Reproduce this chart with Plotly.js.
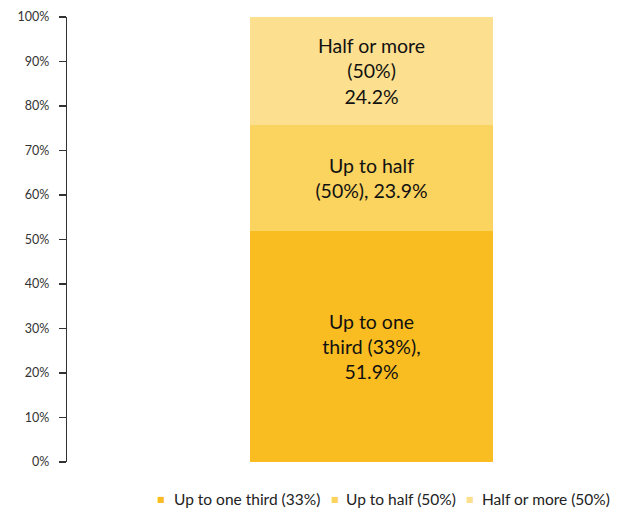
<!DOCTYPE html>
<html>
<head>
<meta charset="utf-8">
<script src="https://cdn.plot.ly/plotly-3.0.1.min.js"></script>
<style>html,body{margin:0;padding:0;background:#fff;}#chart{width:619px;height:512px;}</style>
</head>
<body>
<div id="chart"></div>
<script>
const seriesNames = ["Up to one third (33%)", "Up to half (50%)", "Half or more (50%)"];
const seriesValues = [51.9, 23.9, 24.2];
const barLabels = ["Up to one<br>third (33%),<br>51.9%", "Up to half<br>(50%), 23.9%", "Half or more<br>(50%)<br>24.2%"];
const seriesColors = ["#F9BD22", "#FBD35F", "#FCE08F"];
const yTickVals = [0,10,20,30,40,50,60,70,80,90,100];
const yTickText = ["0%","10%","20%","30%","40%","50%","60%","70%","80%","90%","100%"];

const FONT = "Lato, 'Open Sans', sans-serif";

const traces = seriesNames.map((name, i) => ({
  type: "bar",
  name: name,
  x: [0.5713],
  y: [seriesValues[i]],
  width: [0.456],
  marker: {color: seriesColors[i], line: {width: 0}},
  text: [barLabels[i]],
  textposition: "inside",
  insidetextanchor: "middle",
  constraintext: "none",
  textfont: {family: FONT, size: 19.5, color: "#111"},
  hoverinfo: "skip",
  showlegend: false
}));

// legend built as annotations (small square + text)
const legendSquareX = [161, 335, 470];
const legendTextX = [172, 344, 480];
const legendY = (512 - 499 - 50) / 445;
const annotations = [];
seriesNames.forEach((name, i) => {
  annotations.push({
    xref: "paper", yref: "paper",
    x: (legendSquareX[i] - 67) / 533, y: legendY,
    xanchor: "center", yanchor: "middle", showarrow: false,
    text: "■", font: {family: "DejaVu Sans", size: 8, color: seriesColors[i]}
  });
  annotations.push({
    xref: "paper", yref: "paper",
    x: (legendTextX[i] - 67) / 533, y: legendY,
    xanchor: "left", yanchor: "middle", showarrow: false,
    text: name, font: {family: FONT, size: 15.5, color: "#222"}
  });
});

const layout = {
  width: 619, height: 512,
  margin: {l: 67, r: 19, t: 17, b: 50},
  paper_bgcolor: "#fff", plot_bgcolor: "#fff",
  barmode: "stack",
  showlegend: false,
  xaxis: {range: [0, 1], visible: false, fixedrange: true},
  yaxis: {
    range: [0, 100],
    tickvals: yTickVals, ticktext: yTickText,
    showgrid: false, zeroline: false,
    showline: true, linecolor: "#333", linewidth: 1.3,
    ticks: "outside", ticklen: 7, tickcolor: "#333", tickwidth: 1.3,
    ticklabelstandoff: 7,
    tickfont: {family: FONT, size: 12.5, color: "#333"}
  },
  annotations: annotations
};

Plotly.newPlot("chart", traces, layout, {displayModeBar: false, staticPlot: true});
</script>
</body>
</html>
